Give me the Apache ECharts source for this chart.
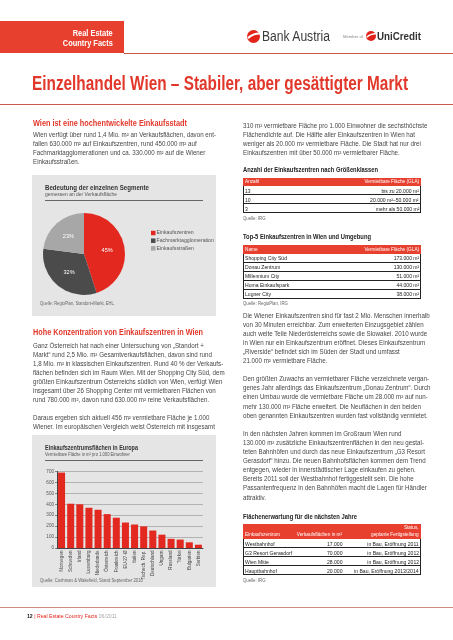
<!DOCTYPE html>
<html><head><meta charset="utf-8">
<script src="https://cdn.jsdelivr.net/npm/echarts@6/dist/echarts.min.js"></script>
<style>
html,body{margin:0;padding:0;background:#fff;}
#page{position:relative;width:453px;height:640px;overflow:hidden;font-family:"Liberation Sans Narrow","Arial Narrow","Liberation Sans",Arial,sans-serif;}
.a{position:absolute;white-space:nowrap;}
#chart{position:absolute;left:0;top:0;width:453px;height:640px;}
</style></head>
<body><div id="page"></div>
<script>
// ---------- data ----------
const pieNames = ['Einkaufszentren', 'Fachmarktagglomeration', 'Einkaufsstraßen'];
const pieValues = [45, 32, 23];
const countries = ['Norwegen','Schweden','Irland','Luxemburg','Niederlande','Österreich','Frankreich','EU-27-Ø','Italien','Tschech. Rep.','Deutschland','Ungarn','Russland','Türkei','Bulgarien','Serbien'];
const areaPer1000 = [690, 405, 400, 368, 350, 310, 277, 233, 215, 198, 160, 122, 84, 77, 52, 30];
const yMin = 0, yMax = 700, yStep = 100;
const sizeCounts = ['13', '10', '3'];
const sizeClasses = ['bis zu 20.000 m²', '20.000 m²–50.000 m²', 'mehr als 50.000 m²'];
const topNames = ['Shopping City Süd', 'Donau Zentrum', 'Millennium City', 'Huma Einkaufspark', 'Lugner City'];
const topGLA = ['173.000 m²', '130.000 m²', '51.000 m²', '44.000 m²', '38.000 m²'];
const futureNames = ['Westbahnhof', 'G3 Resort Gerasdorf', 'Wien Mitte', 'Hauptbahnhof'];
const futureArea = ['17.000', '70.000', '28.000', '20.000'];
const futureStatus = ['in Bau, Eröffnung 2011', 'in Bau, Eröffnung 2012', 'in Bau, Eröffnung 2012', 'in Bau, Eröffnung 2013/2014'];

const para1 = ['Wien verfügt über rund 1,4 Mio. m² an Verkaufsflächen, davon ent-','fallen 630.000 m² auf Einkaufszentren, rund 450.000 m² auf','Fachmarktagglomerationen und ca. 330.000 m² auf die Wiener','Einkaufsstraßen.'];
const para2 = ['Ganz Österreich hat nach einer Untersuchung von „Standort +','Markt“ rund 2,5 Mio. m² Gesamtverkaufsflächen, davon sind rund','1,8 Mio. m² in klassischen Einkaufszentren. Rund 40 % der Verkaufs-','flächen befinden sich im Raum Wien. Mit der Shopping City Süd, dem','größten Einkaufszentrum Österreichs südlich von Wien, verfügt Wien','insgesamt über 26 Shopping Center mit vermietbaren Flächen von','rund 780.000 m², davon rund 630.000 m² reine Verkaufsflächen.'];
const para3 = ['Daraus ergeben sich aktuell 456 m² vermietbare Fläche je 1.000','Wiener. Im europäischen Vergleich weist Österreich mit insgesamt'];
const para4 = ['310 m² vermietbare Fläche pro 1.000 Einwohner die sechsthöchste','Flächendichte auf. Die Hälfte aller Einkaufszentren in Wien hat','weniger als 20.000 m² vermietbare Fläche. Die Stadt hat nur drei','Einkaufszentren mit über 50.000 m² vermietbarer Fläche.'];
const para5 = ['Die Wiener Einkaufszentren sind für fast 2 Mio. Menschen innerhalb','von 30 Minuten erreichbar. Zum erweiterten Einzugsgebiet zählen','auch weite Teile Niederösterreichs sowie die Slowakei. 2010 wurde','in Wien nur ein Einkaufszentrum eröffnet. Dieses Einkaufszentrum','„Riverside“ befindet sich im Süden der Stadt und umfasst','21.000 m² vermietbare Fläche.'];
const para6 = ['Den größten Zuwachs an vermietbarer Fläche verzeichnete vergan-','genes Jahr allerdings das Einkaufszentrum „Donau Zentrum“. Durch','einen Umbau wurde die vermietbare Fläche um 28.000 m² auf nun-','mehr 130.000 m² Fläche erweitert. Die Neuflächen in den beiden','oben genannten Einkaufszentren wurden fast vollständig vermietet.'];
const para7 = ['In den nächsten Jahren kommen im Großraum Wien rund','130.000 m² zusätzliche Einkaufszentrenflächen in den neu gestal-','teten Bahnhöfen und durch das neue Einkaufszentrum „G3 Resort','Gerasdorf“ hinzu. Die neuen Bahnhofsflächen kommen dem Trend','entgegen, wieder in innerstädtischer Lage einkaufen zu gehen.','Bereits 2011 soll der Westbahnhof fertiggestellt sein. Die hohe','Passantenfrequenz in den Bahnhöfen macht die Lagen für Händler','attraktiv.'];

// ---------- layout helpers ----------
const RED = '#e2382b';
const FONT = '"Liberation Sans Narrow","Arial Narrow","Liberation Sans",Arial,sans-serif';
const page = document.getElementById('page');
function box(x, y, w, h, bg) {
  const d = document.createElement('div'); d.className = 'a';
  Object.assign(d.style, {left: x + 'px', top: y + 'px', width: w + 'px', height: h + 'px', background: bg});
  page.appendChild(d); return d;
}
function txt(x, yc, html, o) {
  o = o || {};
  const d = document.createElement('div'); d.className = 'a';
  const fs = o.fs || 6.6, lh = o.lh || Math.ceil(fs * 1.3);
  d.style.fontSize = fs + 'px'; d.style.lineHeight = lh + 'px'; d.style.top = (yc - lh / 2) + 'px';
  if (o.family) d.style.fontFamily = o.family;
  if (o.align === 'right') { d.style.right = (453 - x) + 'px'; d.style.transformOrigin = 'right center'; }
  else { d.style.left = x + 'px'; d.style.transformOrigin = 'left center'; }
  if (o.bold) d.style.fontWeight = 'bold';
  d.style.color = o.color || '#444';
  d.innerHTML = html; page.appendChild(d);
  if (o.w) { const r = d.getBoundingClientRect().width; d.style.transform = 'scaleX(' + (o.w / r) + ')'; }
  else if (o.scale) { d.style.transform = 'scaleX(' + o.scale + ')'; }
  return d;
}
const BODY_FS = 6.6, LS = 9.1;
const probe = txt(0, -50, para1[0], {fs: BODY_FS});
const G = 183 / probe.getBoundingClientRect().width;
probe.remove();
function para(x, y1, lines) { lines.forEach((l, i) => txt(x, y1 + i * LS, l, {fs: BODY_FS, scale: G, color: '#474747'})); }

// ---------- backgrounds ----------
box(0, 21, 124, 32, '#e8402f');
box(124, 52.5, 329, 1, '#c9594c');
box(0, 103.5, 453, 1, '#c9594c');
box(0, 606.5, 453, 1, '#d08a80');
box(32, 175, 184, 141, '#e5e5e5');
box(32, 435, 184, 152, '#e5e5e5');
box(45, 199.5, 158, 1.3, '#666');
box(45, 459.5, 158, 1.3, '#666');

const cdiv = document.createElement('div'); cdiv.id = 'chart'; page.appendChild(cdiv);

// ---------- header ----------
txt(113, 33, 'Real Estate', {fs: 8.3, bold: true, color: '#fff', align: 'right', w: 40});
txt(113, 43.5, 'Country Facts', {fs: 8.3, bold: true, color: '#fff', align: 'right', w: 50});
function logo(cx, cy, r) {
  const s = document.createElementNS('http://www.w3.org/2000/svg', 'svg');
  s.setAttribute('width', 2 * r + 2); s.setAttribute('height', 2 * r + 2);
  s.style.position = 'absolute'; s.style.left = (cx - r - 1) + 'px'; s.style.top = (cy - r - 1) + 'px';
  s.innerHTML = '<circle cx="' + (r + 1) + '" cy="' + (r + 1) + '" r="' + r + '" fill="#e2231a"/>' +
    '<path d="M' + (1 + r * 0.15) + ',' + (1 + r * 1.25) + ' Q' + (1 + r * 0.9) + ',' + (1 + r * 0.55) + ' ' + (1 + r * 1.95) + ',' + (1 + r * 0.55) + '" stroke="#fff" stroke-width="' + (r * 0.32) + '" fill="none"/>';
  page.appendChild(s);
}
logo(253, 36, 6.5);
txt(262, 36, 'Bank Austria', {fs: 14, color: '#3a3a3a', w: 68, family: '"Liberation Sans",Arial,sans-serif', lh: 16});
txt(343, 37, 'Member of', {fs: 4.2, color: '#888', w: 20});
logo(371, 36, 5);
txt(377, 36, 'UniCredit', {fs: 10.5, bold: true, color: '#333', w: 44, family: '"Liberation Sans",Arial,sans-serif'});

txt(32, 83, 'Einzelhandel Wien – Stabiler, aber gesättigter Markt', {fs: 19.5, bold: true, color: RED, w: 376, lh: 24});

// ---------- left column ----------
txt(33, 123, 'Wien ist eine hochentwickelte Einkaufsstadt', {fs: 8.8, bold: true, color: RED, w: 154});
para(33, 134, para1);
txt(45, 188, 'Bedeutung der einzelnen Segmente', {fs: 7.6, bold: true, color: '#333', w: 104});
txt(45, 195, 'gemessen an der Verkaufsfläche', {fs: 4.6, color: '#555', w: 72});
txt(40, 304, 'Quelle: RegioPlan, Standort+Markt, EHL.', {fs: 4.6, color: '#666', w: 75});
txt(33, 332, 'Hohe Konzentration von Einkaufszentren in Wien', {fs: 8.8, bold: true, color: RED, w: 170});
para(33, 345, para2);
para(33, 345 + 8 * LS, para3);
txt(45, 448, 'Einkaufszentrumsflächen in Europa', {fs: 7.6, bold: true, color: '#333', w: 93});
txt(45, 455, 'Vermietbare Fläche in m² pro 1.000 Einwohner', {fs: 4.6, color: '#555', w: 85});
txt(40, 581, 'Quelle: Cushman &amp; Wakefield, Stand September 2010', {fs: 4.6, color: '#666', w: 103});

// ---------- right column ----------
const RX0 = 243, RX1 = 421;
para(RX0, 125, para4);
function table(yTop, headH, rowH, nRows) {
  box(RX0, yTop, RX1 - RX0, headH, '#e8402f');
  const y0 = yTop + headH;
  box(RX0, y0, 0.8, nRows * rowH, '#222');
  box(RX1 - 0.8, y0, 0.8, nRows * rowH, '#222');
  for (let i = 1; i <= nRows; i++) box(RX0, y0 + i * rowH - 0.8, RX1 - RX0, 0.8, '#222');
  return y0;
}
const CELL = {fs: 5.4, color: '#222', scale: G};
function cell(x, y, s, right) { txt(x, y, s, Object.assign({}, CELL, right ? {align: 'right'} : {})); }
function head(x, y, s, right) { txt(x, y, s, {fs: 5, color: '#fff', scale: G, align: right ? 'right' : 'left'}); }

txt(RX0, 170, 'Anzahl der Einkaufszentren nach Größenklassen', {fs: 7, bold: true, color: '#222', w: 135});
let y0 = table(177.5, 8.5, 9, sizeCounts.length);
head(RX0 + 2, 181.7, 'Anzahl'); head(RX1 - 2, 181.7, 'Vermietbare Fläche (GLA)', true);
sizeCounts.forEach((c, i) => { cell(RX0 + 2, y0 + 4.5 + i * 9, c); cell(RX1 - 2, y0 + 4.5 + i * 9, sizeClasses[i], true); });
txt(RX0, 219, 'Quelle: IRG', {fs: 4.6, color: '#666', scale: G});

txt(RX0, 237, 'Top-5 Einkaufszentren in Wien und Umgebung', {fs: 7, bold: true, color: '#222', w: 128});
y0 = table(245, 8.5, 9, topNames.length);
head(RX0 + 2, 249.2, 'Name'); head(RX1 - 2, 249.2, 'Vermietbare Fläche (GLA)', true);
topNames.forEach((n, i) => { cell(RX0 + 2, y0 + 4.5 + i * 9, n); cell(RX1 - 2, y0 + 4.5 + i * 9, topGLA[i], true); });
txt(RX0, 304, 'Quelle: RegioPlan, IRG', {fs: 4.6, color: '#666', scale: G});

para(RX0, 315, para5);
para(RX0, 315 + 7 * LS, para6);
para(RX0, 315 + 13 * LS, para7);

txt(RX0, 517, 'Flächenerwartung für die nächsten Jahre', {fs: 7, bold: true, color: '#222', w: 114});
y0 = table(524, 15, 9, futureNames.length);
head(RX0 + 2, 534, 'Einkaufszentrum'); head(342, 534, 'Verkaufsflächen in m²', true);
head(RX1 - 2, 527.5, 'Status,', true); head(RX1 - 2, 534, 'geplante Fertigstellung', true);
futureNames.forEach((n, i) => { const y = y0 + 4.5 + i * 9; cell(RX0 + 2, y, n); cell(342, y, futureArea[i], true); cell(RX1 - 2, y, futureStatus[i], true); });
txt(RX0, 581, 'Quelle: IRG', {fs: 4.6, color: '#666', scale: G});

txt(27, 616, '<b style="color:#222">12</b> <span style="color:#e2231a">|</span> <span style="color:#e2231a">Real Estate Country Facts</span> <span style="color:#aaa">06/2011</span>', {fs: 5.6, w: 90});

// ---------- charts ----------
const chart = echarts.init(cdiv, null, {renderer: 'canvas', width: 453, height: 640});
chart.setOption({
  animation: false,
  textStyle: {fontFamily: FONT},
  legend: {
    orient: 'vertical', left: 146, top: 225, itemWidth: 4.5, itemHeight: 4.5, itemGap: 1.7,
    icon: 'rect', data: pieNames, selectedMode: false,
    textStyle: {fontSize: 5.2, color: '#555', lineHeight: 6, fontFamily: FONT, padding: [0, 0, 0, -4]}
  },
  grid: {left: 57, right: 250, top: 471.5, bottom: 92, containLabel: false},
  xAxis: {
    type: 'category', data: countries,
    axisLine: {lineStyle: {color: '#444', width: 1}}, axisTick: {show: false},
    axisLabel: {rotate: 90, interval: 0, fontSize: 4.6, color: '#444', margin: 2.5, fontFamily: FONT}
  },
  yAxis: {
    type: 'value', min: yMin, max: yMax, interval: yStep,
    axisLine: {show: true, lineStyle: {color: '#444', width: 1}},
    axisTick: {show: true, length: 2, lineStyle: {color: '#444', width: 0.6}},
    axisLabel: {fontSize: 4.6, color: '#555', margin: 3, fontFamily: FONT},
    splitLine: {lineStyle: {color: '#8f8f8f', width: 0.6}}
  },
  series: [
    {
      type: 'pie', center: [84, 254], radius: 41, startAngle: 90, clockwise: true,
      color: ['#e3291f', '#4b4b4b', '#a7a7a7'],
      data: pieNames.map((n, i) => ({name: n, value: pieValues[i]})),
      itemStyle: {borderWidth: 0},
      label: {show: true, position: 'inside', formatter: '{c}%', fontSize: 5.6, color: '#fff', fontFamily: FONT},
      labelLine: {show: false}, emphasis: {disabled: true}
    },
    {
      type: 'bar', data: areaPer1000, barCategoryGap: '23%',
      itemStyle: {color: '#e3291f'}, emphasis: {disabled: true}
    }
  ]
});
</script>
</body></html>
